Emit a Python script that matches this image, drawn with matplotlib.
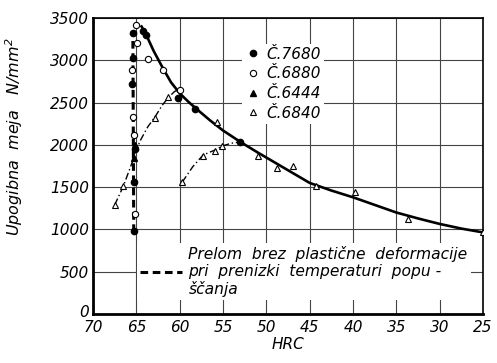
import matplotlib
matplotlib.use("Agg")
import matplotlib.pyplot as plt
from matplotlib.lines import Line2D
from matplotlib.transforms import ScaledTranslation

plt.rcParams['font.family'] = ['DejaVu Sans']
plt.rcParams['font.style'] = 'italic'

# ---- data ----
# main solid curve
curve_hrc = [64.4, 63.9, 63.0, 61.9, 61.0, 60.0, 59.0, 58.0, 56.5, 55.0, 53.0, 51.0,
             49.0, 47.0, 45.0, 42.5, 40.0, 37.5, 35.0, 32.5, 30.0, 27.5, 25.0]
curve_y = [3400, 3310, 3110, 2900, 2740, 2610, 2510, 2420, 2290, 2170, 2035, 1910,
           1790, 1670, 1550, 1460, 1380, 1290, 1200, 1130, 1065, 1010, 965]

# dash-dot branches (C.6840)
left_hrc = [67.5, 66.5, 65.6, 64.6, 63.7, 62.85, 62.0, 61.3, 60.6, 60.0]
left_y = [1290, 1510, 1760, 2040, 2210, 2330, 2470, 2560, 2630, 2660]
right_hrc = [59.7, 58.5, 57.3, 55.9, 55.0, 54.0, 53.0]
right_y = [1560, 1740, 1880, 1940, 1990, 2020, 2035]

# thick dashed line: fracture without plastic deformation
brittle_hrc = [65.3, 65.4]
brittle_y = [970, 3330]

# marker series
c7680_hrc = [65.4, 64.2, 63.9, 65.4, 65.5, 60.2, 58.2, 53.0, 65.15, 65.3, 65.3]
c7680_y = [3320, 3345, 3300, 3025, 2720, 2550, 2420, 2035, 1950, 1560, 980]

c6880_hrc = [65.0, 64.9, 63.65, 65.5, 61.9, 60.0, 65.4, 65.3, 65.15]
c6880_y = [3420, 3200, 3010, 2890, 2890, 2645, 2330, 2120, 1180]

c6444_hrc = [65.2, 65.3]
c6444_y = [2000, 1840]

c6840_hrc = [67.5, 66.5, 62.85, 61.35, 59.7, 57.3, 55.9, 55.1,
             55.7, 51.0, 48.8, 46.9, 44.3, 39.8, 33.7, 25.0]
c6840_y = [1290, 1510, 2320, 2560, 1560, 1870, 1930, 1990,
           2270, 1870, 1730, 1745, 1515, 1445, 1125, 975]

x_ticks = [70, 65, 60, 55, 50, 45, 40, 35, 30, 25]
y_ticks = [0, 500, 1000, 1500, 2000, 2500, 3000, 3500]

labels = ['Č.7680', 'Č.6880', 'Č.6444', 'Č.6840']
note = ("Prelom  brez  plastične  deformacije\n"
        "pri  prenizki  temperaturi  popu -\n"
        "ščanja")

# ---- figure ----
fig = plt.figure(figsize=(4.97, 3.63), dpi=100)
ax = fig.add_axes([93/497, 1-314/363, 390/497, 296/363])
ax.set_xlim(70, 25)
ax.set_ylim(0, 3500)
ax.set_xticks(x_ticks)
ax.set_yticks(y_ticks)
ax.tick_params(length=0, labelsize=11)
ax.tick_params(axis='x', pad=4)
ax.tick_params(axis='y', pad=3)
ax.grid(True, color='#444444', lw=0.8)
ax.set_axisbelow(True)
for s in ['left', 'bottom']:
    ax.spines[s].set_linewidth(2.0)
for s in ['top', 'right']:
    ax.spines[s].set_linewidth(1.2)

ax.plot(curve_hrc, curve_y, color='black', lw=1.9, solid_joinstyle='round', zorder=3)
ax.plot(left_hrc, left_y, color='black', lw=1.0, ls=(0, (5, 2, 1, 2)), zorder=3)
ax.plot(right_hrc, right_y, color='black', lw=1.0, ls=(0, (5, 2, 1, 2)), zorder=3)
ax.plot(brittle_hrc, brittle_y, color='black', lw=2.2, ls=(0, (2.5, 1.5)), zorder=3)

ms = 4.5
h1, = ax.plot(c7680_hrc, c7680_y, 'o', ms=ms, mfc='black', mec='black', zorder=4)
h2, = ax.plot(c6880_hrc, c6880_y, 'o', ms=ms, mfc='white', mec='black', mew=0.8, zorder=4)
h3, = ax.plot(c6444_hrc, c6444_y, '^', ms=ms, mfc='black', mec='black', zorder=4)
h4, = ax.plot(c6840_hrc, c6840_y, '^', ms=ms, mfc='white', mec='black', mew=0.8, zorder=4)

leg1 = ax.legend([h1, h2, h3, h4], labels, loc='upper left',
                 bbox_to_anchor=(0.382, 0.913), fontsize=11, frameon=True,
                 facecolor='white', edgecolor='none', framealpha=1, fancybox=False,
                 borderpad=0.2, borderaxespad=0, handlelength=1.0,
                 handletextpad=0.4, labelspacing=0.3, numpoints=1)
ax.add_artist(leg1)

dash_handle = Line2D([], [], color='black', lw=2.2, ls=(0, (2.5, 1.5)))
leg2 = ax.legend([dash_handle], [note], loc='upper left',
                 bbox_to_anchor=(0.113, 0.24), fontsize=11.2, frameon=True,
                 facecolor='white', edgecolor='none', framealpha=1, fancybox=False,
                 borderpad=0.2, borderaxespad=0, handlelength=2.7,
                 handletextpad=0.4)
leg2.set_zorder(2)
for t in leg2.get_texts():
    t.set_linespacing(1.14)

ax.set_xlabel('HRC', fontsize=11, labelpad=2)
ax.set_ylabel('Upogibna  meja   N/mm$^2$', fontsize=11.5)
ax.yaxis.set_label_coords(-0.175, 0.6)

zero_lab = ax.yaxis.get_major_ticks()[0].label1
zero_lab.set_transform(zero_lab.get_transform() +
                       ScaledTranslation(0, 2.5/72, fig.dpi_scale_trans))

fig.savefig('out.png', dpi=100)
